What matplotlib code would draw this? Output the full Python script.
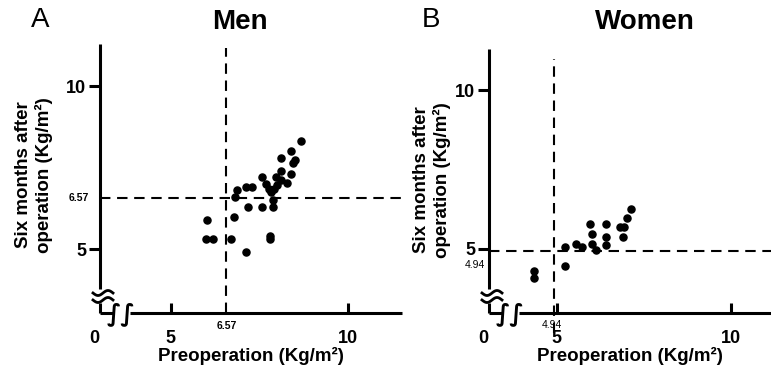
import numpy as np
import matplotlib.pyplot as plt
from matplotlib.ticker import FixedLocator

plt.rcParams['font.family'] = ['Liberation Sans', 'DejaVu Sans']

# Men: preoperation vs six months after operation (Kg/m2)
men_pre = [6.01, 5.98, 6.20, 6.69, 6.79, 7.11, 6.81, 6.87, 7.11, 7.30, 7.19, 7.58,
           7.58, 7.68, 7.77, 7.82, 7.91, 7.89, 7.89, 7.80, 7.80, 7.99, 7.97, 8.10,
           8.11, 8.11, 8.29, 8.39, 8.39, 8.45, 8.52, 8.69]
men_post = [5.89, 5.30, 5.30, 5.30, 5.99, 4.90, 6.59, 6.80, 6.89, 6.89, 6.30, 6.30,
            7.20, 6.99, 6.84, 6.76, 6.83, 6.50, 6.30, 5.41, 5.30, 6.96, 7.22, 7.40,
            7.80, 7.12, 7.02, 7.29, 8.01, 7.65, 7.73, 8.31]
men_cut = 6.57

# Women
women_pre = [4.35, 4.35, 5.24, 5.24, 5.55, 5.74, 5.96, 6.01, 6.01, 6.13, 6.42, 6.42,
             6.42, 6.82, 6.94, 6.91, 7.03, 7.13]
women_post = [4.29, 4.07, 5.06, 4.47, 5.17, 5.06, 5.79, 5.47, 5.17, 4.98, 5.79, 5.38,
              5.11, 5.68, 5.68, 5.38, 5.98, 6.27]
women_cut = 4.94

W, H = 771, 368
fig = plt.figure(figsize=(W / 100, H / 100), dpi=100)


def px(x0, y0, x1, y1):
    # pixel box -> figure fraction rect
    return [x0 / W, 1 - y1 / H, (x1 - x0) / W, (y1 - y0) / H]


def panel(box, xlim, ylim, pre, post, cut, vline_lo, vline_hi):
    ax = fig.add_axes(px(*box))
    ax.set_xlim(*xlim)
    ax.set_ylim(*ylim)
    # data units per pixel, for drawing the axis breaks
    ux = (xlim[1] - xlim[0]) / (box[2] - box[0])
    uy = (ylim[1] - ylim[0]) / (box[3] - box[1])
    x0, y0 = xlim[0], ylim[0]

    ax.scatter(pre, post, s=26, color='black', zorder=5, clip_on=False)

    dash = (0, (5, 3.2))
    ax.plot([cut, cut], [vline_lo, vline_hi], color='black', lw=1.5, ls=dash, clip_on=False)
    ax.plot([xlim[0], xlim[1]], [cut, cut], color='black', lw=1.5, ls=dash, clip_on=False)

    for s in ['top', 'right']:
        ax.spines[s].set_visible(False)
    for s in ['left', 'bottom']:
        ax.spines[s].set_linewidth(2.2)
        ax.spines[s].set_capstyle('butt')

    # y-axis break (two wiggles) between 23 and 12 px above the corner
    ax.spines['left'].set_bounds(y0 + 24 * uy, ylim[1])
    ax.spines['bottom'].set_bounds(x0 + 30 * ux, xlim[1])
    ax.plot([x0, x0], [y0, y0 + 10 * uy], color='black', lw=2.2,
            clip_on=False, solid_capstyle='butt')
    ax.plot([x0, x0 + 13 * ux], [y0, y0], color='black', lw=2.2,
            clip_on=False, solid_capstyle='butt')
    t = np.linspace(0, 1, 40)
    for dy in (20, 13):
        wx = x0 + (-7 + 20 * t) * ux
        wy = y0 + (dy + 2.5 * np.sin(2 * np.pi * t + np.pi)) * uy
        ax.plot(wx, wy, color='black', lw=2.0, clip_on=False)
    ax.text(x0 + 21 * ux, y0 - 1 * uy, '∫∫', fontsize=17, ha='center', va='center',
            clip_on=False, family='DejaVu Sans', fontweight='bold')

    ax.xaxis.set_major_locator(FixedLocator([5, 10]))
    ax.yaxis.set_major_locator(FixedLocator([5, 10]))
    ax.tick_params(axis='x', direction='in', length=7, width=2.2, pad=12,
                   labelsize=13)
    ax.tick_params(axis='y', direction='out', length=8, width=2.2, pad=2,
                   labelsize=13)
    for lab in ax.get_xticklabels() + ax.get_yticklabels():
        lab.set_fontweight('bold')

    ax.annotate('0', (x0, y0), xytext=(-4, -12), textcoords='offset points',
                fontsize=13, fontweight='bold', ha='center', va='top')

    ax.set_xlabel('Preoperation (Kg/m²)', fontsize=13.5, fontweight='bold', labelpad=0)
    return ax


axL = panel((100, 44, 402, 313), (3.0, 11.53), (3.04, 11.29),
            men_pre, men_post, men_cut, 3.04, 11.17)
axR = panel((489, 49, 771, 313), (3.06, 11.16), (2.98, 11.3),
            women_pre, women_post, women_cut, 2.36, 11.0)

# cut-off value labels
axL.annotate('6.57', (3.0, men_cut), xytext=(-8, 0), textcoords='offset points',
             fontsize=7.5, fontweight='bold', ha='right', va='center')
axL.annotate('6.57', (men_cut, 3.04), xytext=(0, -6), textcoords='offset points',
             fontsize=7.5, fontweight='bold', ha='center', va='top')
axR.annotate('4.94', (3.06, women_cut), xytext=(-3, -10), textcoords='offset points',
             fontsize=7.5, ha='right', va='center')
axR.annotate('4.94', (women_cut, 2.98), xytext=(-2, -5), textcoords='offset points',
             fontsize=7.5, ha='center', va='top')

fig.text(34 / W, 1 - 175 / H, 'Six months after\noperation (Kg/m²)', rotation=90,
         ha='center', va='center', multialignment='center', fontsize=13.5,
         fontweight='bold', linespacing=1.2)
fig.text(432 / W, 1 - 180 / H, 'Six months after\noperation (Kg/m²)', rotation=90,
         ha='center', va='center', multialignment='center', fontsize=13.5,
         fontweight='bold', linespacing=1.2)

fig.text(40 / W, 1 - 20 / H, 'A', fontsize=20, ha='center', va='center')
fig.text(240 / W, 1 - 22 / H, 'Men', fontsize=20, fontweight='bold', ha='center', va='center')
fig.text(431 / W, 1 - 20 / H, 'B', fontsize=20, ha='center', va='center')
fig.text(645 / W, 1 - 22 / H, 'Women', fontsize=20, fontweight='bold', ha='center', va='center')

fig.savefig('out.png', dpi=100)
